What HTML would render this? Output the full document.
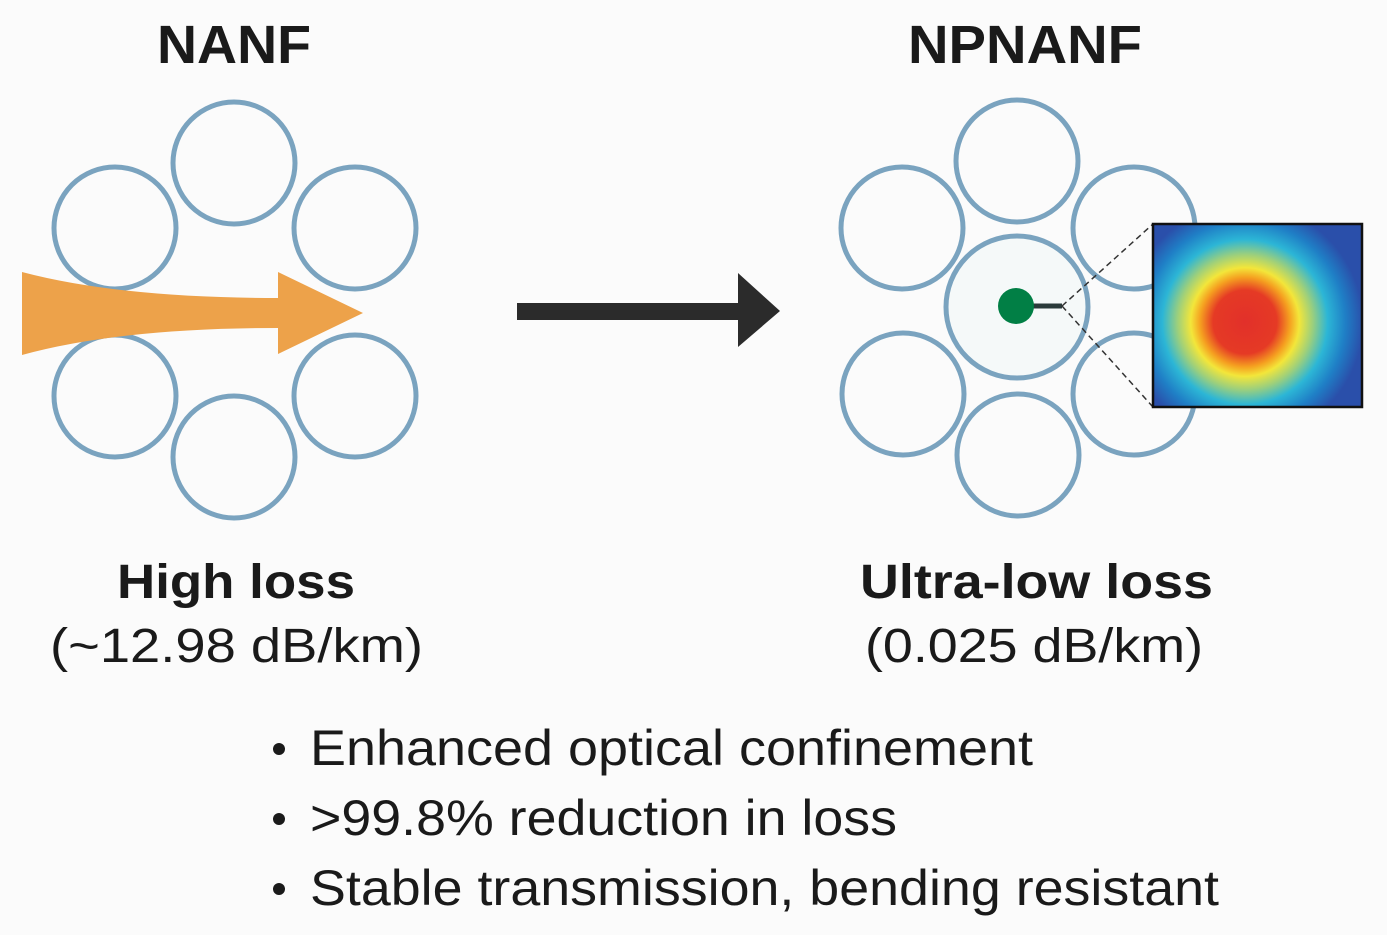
<!DOCTYPE html>
<html><head><meta charset="utf-8"><style>
html,body{margin:0;padding:0;background:#fbfbfb;}
svg{display:block}
</style></head><body>
<svg width="1387" height="935" viewBox="0 0 1387 935" xmlns="http://www.w3.org/2000/svg">
<defs>
<radialGradient id="g" gradientUnits="userSpaceOnUse" cx="1245" cy="322" r="118">
<stop offset="0" stop-color="#e2302a"/>
<stop offset="0.27" stop-color="#e53a25"/>
<stop offset="0.38" stop-color="#f5a020"/>
<stop offset="0.46" stop-color="#f3e63a"/>
<stop offset="0.57" stop-color="#9fd07a"/>
<stop offset="0.70" stop-color="#2cb6d6"/>
<stop offset="0.85" stop-color="#1f7fc6"/>
<stop offset="1" stop-color="#2a4faa"/>
</radialGradient>
</defs>
<rect width="1387" height="935" fill="#fbfbfb"/>
<g font-family="Liberation Sans, sans-serif" fill="#1a1a1a">
<text x="157" y="63" font-size="54" font-weight="bold" textLength="154" lengthAdjust="spacingAndGlyphs">NANF</text>
<text x="908" y="63" font-size="54" font-weight="bold" textLength="234" lengthAdjust="spacingAndGlyphs">NPNANF</text>
<text x="117" y="598" font-size="48" font-weight="bold" textLength="238" lengthAdjust="spacingAndGlyphs">High loss</text>
<text x="50" y="662" font-size="48" textLength="373" lengthAdjust="spacingAndGlyphs">(~12.98 dB/km)</text>
<text x="860" y="598" font-size="48" font-weight="bold" textLength="353" lengthAdjust="spacingAndGlyphs">Ultra-low loss</text>
<text x="865" y="662" font-size="48" textLength="338" lengthAdjust="spacingAndGlyphs">(0.025 dB/km)</text>
</g>
<g font-family="Liberation Sans, sans-serif" fill="#1a1a1a" font-size="50">
<circle cx="279" cy="749" r="6"/><text x="310" y="765" textLength="723" lengthAdjust="spacingAndGlyphs">Enhanced optical confinement</text>
<circle cx="279" cy="819" r="6"/><text x="310" y="835" textLength="587" lengthAdjust="spacingAndGlyphs">&gt;99.8% reduction in loss</text>
<circle cx="279" cy="889" r="6"/><text x="310" y="905" textLength="909" lengthAdjust="spacingAndGlyphs">Stable transmission, bending resistant</text>
</g>
<g fill="none" stroke="#7aa3bf" stroke-width="5">
<circle cx="234" cy="163" r="61"/>
<circle cx="115" cy="228" r="61"/>
<circle cx="355" cy="228" r="61"/>
<circle cx="115" cy="396" r="61"/>
<circle cx="355" cy="396" r="61"/>
<circle cx="234" cy="457" r="61"/>
</g>
<path d="M22 272 Q120 298 278 298 L278 272 L363 313 L278 354 L278 328 Q120 328 22 355 Z" fill="#eda24a"/>
<rect x="517" y="303" width="224" height="17" fill="#2b2b2b"/>
<path d="M738 273 L780 311 L738 347 Z" fill="#2b2b2b"/>
<g stroke="#7aa3bf" stroke-width="5">
<circle cx="1017" cy="161" r="61" fill="none"/>
<circle cx="902" cy="228" r="61" fill="none"/>
<circle cx="1134" cy="228" r="61" fill="none"/>
<circle cx="903" cy="394" r="61" fill="none"/>
<circle cx="1134" cy="394" r="61" fill="none"/>
<circle cx="1018" cy="455" r="61" fill="none"/>
<circle cx="1017" cy="307" r="71" fill="#f5f9f9"/>
</g>
<line x1="1030" y1="306" x2="1062" y2="306" stroke="#2a3a3a" stroke-width="5"/>
<circle cx="1016" cy="306" r="18" fill="#017f45"/>
<line x1="1062" y1="306" x2="1153" y2="224" stroke="#333" stroke-width="1.5" stroke-dasharray="6,4"/>
<line x1="1062" y1="306" x2="1153" y2="407" stroke="#333" stroke-width="1.5" stroke-dasharray="6,4"/>
<rect x="1153" y="224" width="209" height="183" fill="url(#g)" stroke="#111" stroke-width="2.5"/>
</svg>
</body></html>
